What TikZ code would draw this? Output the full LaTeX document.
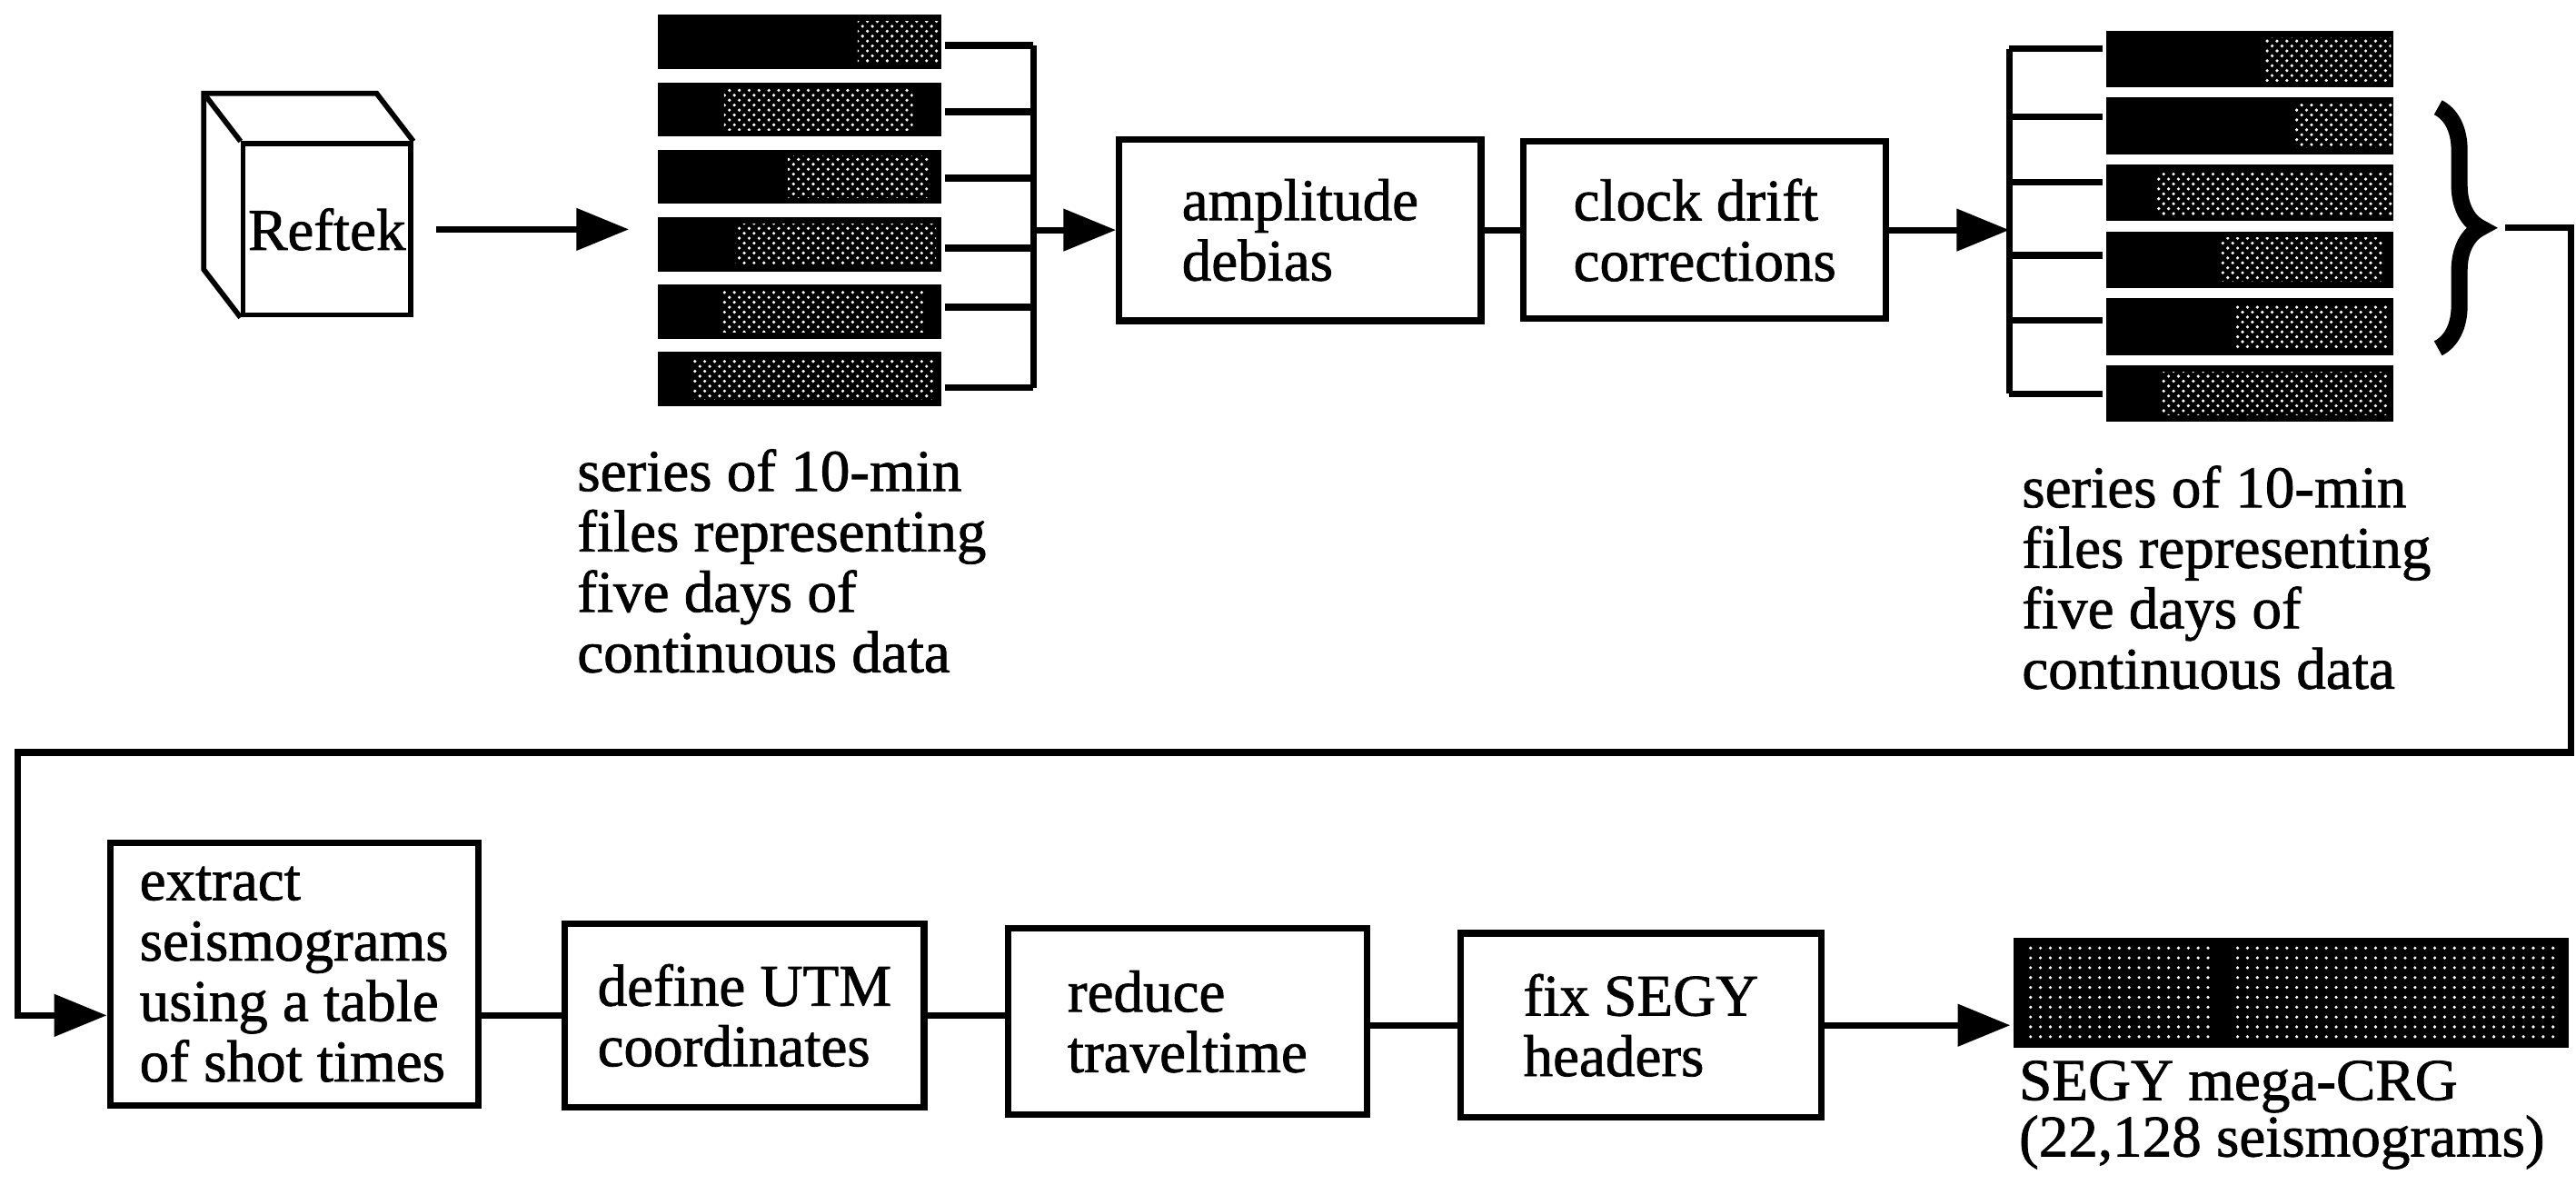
\documentclass[tikz,border=0pt]{standalone}
\usepackage{fontspec}
\setmainfont{Liberation Serif}[FakeBold=1.2]
\usetikzlibrary{arrows.meta,calc,decorations.pathreplacing,patterns}
\tikzset{
	box/.style={draw, line width=2pt, align=left, inner sep=0pt},
	bar/.style={fill=black, inner sep=0pt},
	speck/.style={pattern=crosshatch dots, pattern color=white},
	lbl/.style={anchor=north west, align=left, inner sep=0pt},
	arr/.style={-{Triangle[length=16pt,width=12.5pt]}},
	brc/.style={decorate, decoration={brace, amplitude=13pt}, line width=5pt},
}
\begin{document}
\begin{tikzpicture}[line width=2pt, font=\fontsize{18}{18.4}\selectfont]
			\useasboundingbox (0,0) rectangle (784pt,-360.5pt);
			\node[draw, line width=1.6pt, minimum width=51pt, minimum height=52pt, inner sep=0pt] (reftek) at (99.5pt,-69.8pt) {Reftek};
			\draw[line width=1.6pt] (reftek.north east) -- ++(-11.2pt,14.6pt) -- ([shift={(-11.2pt,14.6pt)}]reftek.north west) -- ([shift={(-11.2pt,14.6pt)}]reftek.south west) -- (reftek.south west);
			\draw[line width=1.6pt] (reftek.north west) -- ++(-11.2pt,14.6pt);
			\coordinate (inA) at (191.4pt,-69.8pt);
			\draw[arr] ([xshift=7pt]reftek.east) -- (inA);
			\coordinate (busA) at (314.5pt,0);
			\foreach \i/\dy/\p/\q in {1/-1/.70/.98, 2/-.7/.24/.89, 3/-.4/.46/.95, 4/-1.2/.28/.97, 5/1.3/.23/.93, 6/-2.7/.13/.96} {
				\node[bar, minimum width=86.3pt, minimum height=16.5pt] (a\i) at (243.35pt,{-12.8pt-20.5pt*(\i-1)}) {};
				\fill[speck] ($(a\i.south west)!\p!(a\i.south east)+(0,3pt)$) rectangle ($(a\i.north west)!\q!(a\i.north east)-(0,3pt)$);
				\coordinate (la\i) at ([yshift=\dy pt]a\i.east);
				\draw (la\i) -- (la\i -| busA);
			}
			\draw (la1 -| busA) -- (la6 -| busA);
			\node[lbl] (srcA) at (174.7pt,-135.7pt) {series of 10-min\\files representing\\five days of\\continuous data};
			\node[box, minimum width=110.15pt, minimum height=55.3pt] (debias) at (395.7pt,-70pt) {amplitude\\debias};
			\draw[arr] (debias.west -| busA) -- (debias.west);
			\node[box, minimum width=110.3pt, minimum height=54pt] (drift) at (518.85pt,-70pt) {clock drift\\corrections};
			\draw (debias.east) -- (drift.west);
			\coordinate (busB) at (611.5pt,0);
			\draw[arr] (drift.east) -- (drift.east -| busB);
			\foreach \i/\dy/\p/\q in {1/3.2/.55/.98, 2/2.85/.65/.99, 3/3.2/.18/.99, 4/1.35/.40/.95, 5/1.85/.45/.97, 6/-.1/.20/.97} {
				\node[bar, minimum width=87.5pt, minimum height=17.25pt] (b\i) at (684.75pt,{-18pt-20.35pt*(\i-1)}) {};
				\fill[speck] ($(b\i.south west)!\p!(b\i.south east)+(0,3pt)$) rectangle ($(b\i.north west)!\q!(b\i.north east)-(0,3pt)$);
				\coordinate (lb\i) at ([yshift=\dy pt]b\i.west);
				\draw (lb\i) -- (lb\i -| busB);
			}
			\draw (lb1 -| busB) -- (lb6 -| busB);
			\node[lbl] (srcB) at (614.4pt,-140.7pt) {series of 10-min\\files representing\\five days of\\continuous data};
			\draw[brc] (742pt,-32.7pt) -- (742pt,-106pt);
			\coordinate (tip) at (758.5pt,-69.35pt);
			\node[box, minimum width=112pt, minimum height=80pt] (extract) at (89.5pt,-296.5pt) {extract\\seismograms\\using a table\\of shot times};
			\node[box, minimum width=109.25pt, minimum height=56pt] (utm) at (226.6pt,-309pt) {define UTM\\coordinates};
			\node[box, minimum width=109.15pt, minimum height=56.75pt] (reduce) at (361.4pt,-310.9pt) {reduce\\traveltime};
			\node[box, minimum width=109.75pt, minimum height=56pt] (fixhdr) at (499.4pt,-312pt) {fix SEGY\\headers};
			\node[bar, minimum width=168.95pt, minimum height=33.6pt] (crg) at (697.3pt,-302.1pt) {};
			\fill[pattern=dots, pattern color=white] ($(crg.south west)!.03!(crg.south east)+(0,3pt)$) rectangle ($(crg.north west)!.36!(crg.north east)-(0,3pt)$);
			\fill[pattern=dots, pattern color=white] ($(crg.south west)!.40!(crg.south east)+(0,3pt)$) rectangle ($(crg.north west)!.98!(crg.north east)-(0,3pt)$);
			\node[lbl, font=\fontsize{18}{17.2}\selectfont] (crglbl) at (613.5pt,-321.8pt) {SEGY mega-CRG\\(22,128 seismograms)};
			\coordinate (rc) at (782.5pt,-229pt);
			\coordinate (lc) at (5.3pt,-229pt);
			\draw[arr] ([xshift=4pt]tip) -| (rc) -- (lc) |- (extract.west |- utm.west);
			\draw (extract.east |- utm.west) -- (utm.west);
			\draw (utm.east) -- (utm.east -| reduce.west);
			\draw (reduce.east |- fixhdr.west) -- (fixhdr.west);
			\draw[arr] (fixhdr.east) -- (fixhdr.east -| crg.west);
\end{tikzpicture}
\end{document}
